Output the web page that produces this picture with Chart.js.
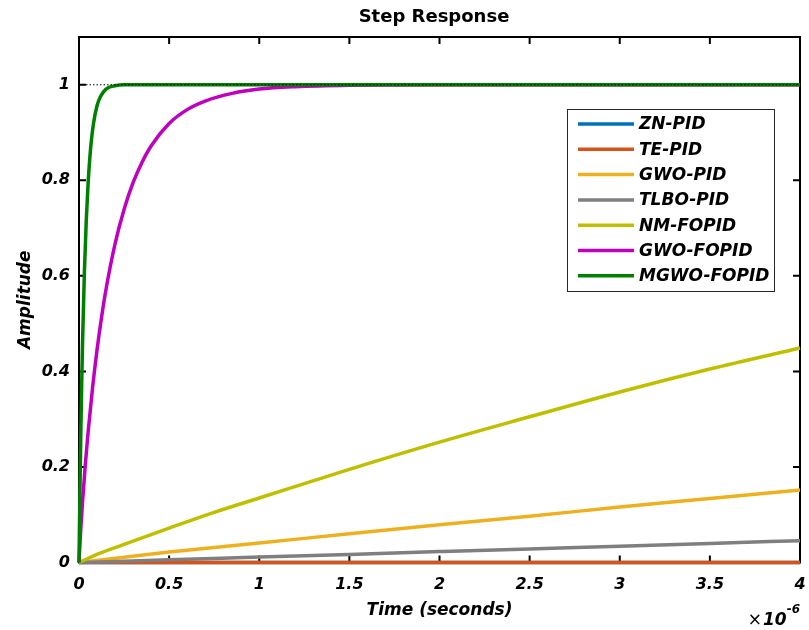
<!DOCTYPE html>
<html>
<head>
<meta charset="utf-8">
<title>Step Response</title>
<script src="https://cdn.jsdelivr.net/npm/chart.js@4.4.0/dist/chart.umd.min.js"></script>
<style>
    html, body { margin: 0; padding: 0; background: #fff; }
    #wrap { width: 809px; height: 630px; }
</style>
</head>
<body>
<div id="wrap"><canvas id="stepChart" width="809" height="630"></canvas></div>
<script>
// 系列名と色（凡例の順）
const seriesNames = ['ZN-PID', 'TE-PID', 'GWO-PID', 'TLBO-PID', 'NM-FOPID', 'GWO-FOPID', 'MGWO-FOPID'];
const seriesColors = ['#0072BD', '#D95319', '#EDB120', '#7F7F7F', '#BFBF00', '#BF00BF', '#008000'];

// 時間は ×10^-6 s 単位
const znTime = [0, 1, 2, 3, 4];
const znAmp = [0, 0, 0, 0, 0];
const teTime = [0, 1, 2, 3, 4];
const teAmp = [0, 0, 0, 0, 0];
const gwoPidTime = [0, 0.5, 1, 1.5, 2, 2.5, 3, 3.5, 4];
const gwoPidAmp = [0, 0.022, 0.041, 0.06, 0.079, 0.097, 0.116, 0.134, 0.152];
const tlboTime = [0, 0.5, 1, 1.5, 2, 2.5, 3, 3.5, 4];
const tlboAmp = [0, 0.0055, 0.0113, 0.017, 0.0228, 0.0285, 0.034, 0.040, 0.0457];
const nmTime = [0, 0.1, 0.25, 0.5, 0.75, 1, 1.5, 2, 2.5, 3, 3.5, 4];
const nmAmp = [0, 0.017, 0.038, 0.072, 0.105, 0.135, 0.195, 0.252, 0.305, 0.357, 0.405, 0.449];
const gwoFoTime = [0, 0.01, 0.02, 0.035, 0.05, 0.075, 0.1, 0.125, 0.15, 0.2, 0.25, 0.3, 0.35, 0.4, 0.5, 0.6, 0.7, 0.85, 1, 1.2, 1.5, 2, 3, 4];
const gwoFoAmp = [0, 0.072, 0.129, 0.205, 0.271, 0.365, 0.445, 0.513, 0.572, 0.667, 0.739, 0.795, 0.838, 0.872, 0.919, 0.948, 0.966, 0.982, 0.991, 0.996, 0.999, 1, 1, 1];
const mgwoTime = [0, 0.005, 0.01, 0.015, 0.02, 0.03, 0.04, 0.05, 0.06, 0.07, 0.08, 0.1, 0.12, 0.15, 0.2, 0.25, 0.5, 1, 2, 3, 4];
const mgwoAmp = [0, 0.145, 0.268, 0.374, 0.465, 0.608, 0.713, 0.79, 0.847, 0.888, 0.918, 0.956, 0.976, 0.991, 0.998, 1, 1, 1, 1, 1, 1];

const seriesTimes = [znTime, teTime, gwoPidTime, tlboTime, nmTime, gwoFoTime, mgwoTime];
const seriesAmps = [znAmp, teAmp, gwoPidAmp, tlboAmp, nmAmp, gwoFoAmp, mgwoAmp];

// 定常値（点線）
const steadyTime = [0, 4];
const steadyAmp = [1, 1];

// 目盛り
const xTickValues = [0, 0.5, 1, 1.5, 2, 2.5, 3, 3.5, 4];
const xTickLabels = ['0', '0.5', '1', '1.5', '2', '2.5', '3', '3.5', '4'];
const yTickValues = [0, 0.2, 0.4, 0.6, 0.8, 1];
const yTickLabels = ['0', '0.2', '0.4', '0.6', '0.8', '1'];

const FONT = 'DejaVu Sans';
const labelFont = { family: FONT, size: 16, weight: 'bold', style: 'italic' };

function toPoints(ts, vs) {
    return ts.map((t, i) => ({ x: t, y: vs[i] }));
}

const datasets = seriesNames.map((name, i) => ({
    label: name,
    data: toPoints(seriesTimes[i], seriesAmps[i]),
    borderColor: seriesColors[i],
    borderWidth: 3.5,
    pointRadius: 0,
    fill: false,
    cubicInterpolationMode: 'monotone',
    clip: false,
    order: seriesNames.length - i
}));

datasets.push({
    label: 'steady',
    data: toPoints(steadyTime, steadyAmp),
    borderColor: '#000',
    borderWidth: 1,
    borderDash: [1.5, 2],
    pointRadius: 0,
    fill: false,
    clip: false,
    order: 0
});

// 枠・内向き目盛り・凡例・タイトル
const matlabFrame = {
    id: 'matlabFrame',
    beforeDatasetsDraw(chart) {
        const { ctx, chartArea: a, scales } = chart;
        const tick = 7;
        ctx.save();
        ctx.strokeStyle = '#000';
        ctx.lineWidth = 2;
        ctx.strokeRect(a.left, a.top, a.right - a.left, a.bottom - a.top);
        ctx.beginPath();
        xTickValues.forEach(v => {
            const px = scales.x.getPixelForValue(v);
            ctx.moveTo(px, a.bottom); ctx.lineTo(px, a.bottom - tick);
            ctx.moveTo(px, a.top); ctx.lineTo(px, a.top + tick);
        });
        yTickValues.forEach(v => {
            const py = scales.y.getPixelForValue(v);
            ctx.moveTo(a.left, py); ctx.lineTo(a.left + tick, py);
            ctx.moveTo(a.right, py); ctx.lineTo(a.right - tick, py);
        });
        ctx.stroke();
        ctx.restore();
    },
    afterDraw(chart) {
        const { ctx, chartArea: a } = chart;
        ctx.save();

        // タイトル
        ctx.fillStyle = '#000';
        ctx.font = 'bold 18px "' + FONT + '"';
        ctx.textAlign = 'center';
        ctx.textBaseline = 'middle';
        ctx.fillText('Step Response', 434, 17);

        // ×10^-6
        ctx.textAlign = 'right';
        ctx.textBaseline = 'alphabetic';
        ctx.font = 'italic bold 12px "' + FONT + '"';
        const expW = ctx.measureText('-6').width;
        ctx.fillText('-6', a.right, 613);
        ctx.font = 'italic bold 17px "' + FONT + '"';
        const tenW = ctx.measureText('10').width;
        ctx.fillText('10', a.right - expW, 625);
        ctx.font = '17px "' + FONT + '"';
        ctx.fillText('\u00d7', a.right - expW - tenW - 1, 625);

        // 凡例
        const bx = a.right - 233, by = a.top + 72, bw = 207, bh = 182;
        ctx.fillStyle = '#fff';
        ctx.fillRect(bx, by, bw, bh);
        ctx.strokeStyle = '#262626';
        ctx.lineWidth = 1;
        ctx.strokeRect(bx + 0.5, by + 0.5, bw, bh);
        ctx.font = 'italic bold 17px "' + FONT + '"';
        ctx.textAlign = 'left';
        ctx.textBaseline = 'middle';
        seriesNames.forEach((name, i) => {
            const ly = by + 15 + i * 25.3;
            ctx.strokeStyle = seriesColors[i];
            ctx.lineWidth = 3.5;
            ctx.beginPath();
            ctx.moveTo(bx + 11, ly);
            ctx.lineTo(bx + 67, ly);
            ctx.stroke();
            ctx.fillStyle = '#000';
            ctx.fillText(name, bx + 72, ly + 1);
        });
        ctx.restore();
    }
};

const ctx = document.getElementById('stepChart').getContext('2d');
new Chart(ctx, {
    type: 'line',
    data: { datasets: datasets },
    options: {
        responsive: false,
        animation: false,
        devicePixelRatio: 1,
        layout: { padding: { top: 37, right: 9, bottom: 0, left: 0 } },
        plugins: {
            legend: { display: false },
            tooltip: { enabled: false },
            title: { display: false }
        },
        scales: {
            x: {
                type: 'linear',
                min: 0,
                max: 4,
                border: { display: false },
                grid: { display: false, drawTicks: false },
                afterBuildTicks: s => { s.ticks = xTickValues.map(v => ({ value: v })); },
                afterFit: s => {
                    s.height = 67.5;
                    s.paddingLeft = 0;
                    s.paddingRight = 0;
                },
                ticks: {
                    autoSkip: false,
                    maxRotation: 0,
                    padding: 13,
                    color: '#000',
                    font: labelFont,
                    callback: (v, i) => xTickLabels[i]
                },
                title: {
                    display: true,
                    text: 'Time (seconds)',
                    color: '#000',
                    font: { family: FONT, size: 17, weight: 'bold', style: 'italic' },
                    padding: { top: 0, bottom: 9 }
                }
            },
            y: {
                type: 'linear',
                min: 0,
                max: 1.1,
                border: { display: false },
                grid: { display: false, drawTicks: false },
                afterBuildTicks: s => { s.ticks = yTickValues.map(v => ({ value: v })); },
                afterFit: s => {
                    s.width = 79;
                    s.paddingTop = 0;
                    s.paddingBottom = 0;
                },
                ticks: {
                    padding: 9,
                    color: '#000',
                    font: labelFont,
                    callback: (v, i) => yTickLabels[i]
                },
                title: {
                    display: true,
                    text: 'Amplitude',
                    color: '#000',
                    font: { family: FONT, size: 17, weight: 'bold', style: 'italic' },
                    padding: { top: 15, bottom: 0 }
                }
            }
        }
    },
    plugins: [matlabFrame]
});
</script>
</body>
</html>
